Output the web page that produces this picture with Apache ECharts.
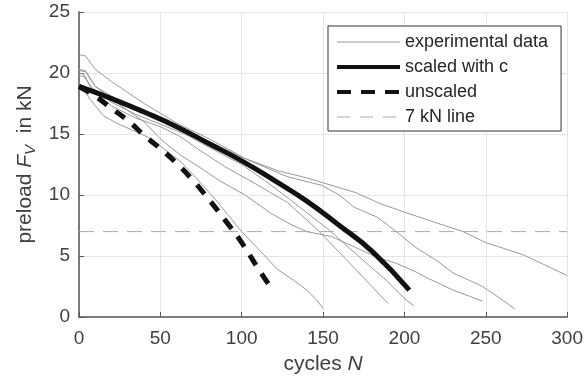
<!DOCTYPE html>
<html>
<head>
<meta charset="utf-8">
<script src="https://cdn.jsdelivr.net/npm/echarts@6/dist/echarts.min.js"></script>
<style>
  html, body { margin: 0; padding: 0; background: #fff; }
  #main { width: 586px; height: 381px; }
</style>
</head>
<body>
<div id="main"></div>
<script>
// experimental preload curves [cycles, preload kN]
let exp1 = [[0,19.2],[3,18.6],[7,17.8],[15,16.5],[23,15.9],[33,15.3],[43,14.7],[52,13.8],[62,12.8],[72,11.4],[84,9.6],[92,8.3],[100,7.0],[110,5.6],[122,3.9],[132,3.0],[140,2.2],[146,1.4],[150,0.7]];
let exp2 = [[0,20.0],[3,19.9],[8,18.6],[20,17.3],[35,16.3],[50,15.6],[62,14.8],[75,13.6],[90,12.3],[110,10.8],[128,9.4],[147,7.1],[160,5.3],[175,3.2],[190,1.1]];
let exp3 = [[0,19.8],[3,19.7],[8,18.8],[20,17.6],[35,16.6],[50,15.8],[65,15.0],[80,13.9],[100,12.5],[114,11.2],[130,9.6],[154,7.1],[175,4.6],[189,3.0],[201,1.4],[206,0.9]];
let exp4 = [[0,20.3],[4,20.2],[10,18.9],[25,17.4],[40,16.0],[50,14.6],[62,13.3],[75,12.2],[86,11.2],[102,10.0],[118,8.5],[130,7.6],[140,7.0],[155,6.6],[170,5.7],[183,4.9],[195,4.4],[207,3.7],[214,3.2],[230,2.2],[240,1.7],[248,1.3]];
let exp5 = [[0,20.2],[4,20.1],[10,18.9],[25,17.7],[40,16.8],[60,15.7],[80,14.4],[100,13.1],[128,11.5],[149,10.8],[160,10.0],[169,9.0],[183,8.2],[195,7.0],[207,5.7],[220,4.6],[230,3.6],[240,3.0],[248,2.5],[258,1.6],[268,0.65]];
let exp6 = [[0,21.5],[4,21.4],[10,20.3],[20,19.3],[30,18.4],[40,17.5],[50,16.7],[60,15.9],[80,14.6],[102,13.0],[122,12.0],[140,11.4],[150,11.0],[170,10.2],[185,9.3],[200,8.6],[220,7.7],[236,7.0],[250,6.1],[273,5.1],[300,3.4]];
// model curves
let scaledC = [[0,18.9],[20,17.9],[40,16.8],[60,15.6],[80,14.2],[100,12.8],[120,11.2],[140,9.5],[160,7.5],[180,5.4],[203,2.2]];
let unscaled = [[0,18.9],[10,18.1],[20,17.1],[30,16.1],[40,14.9],[50,13.8],[60,12.6],[70,11.2],[80,9.6],[90,7.9],[100,6.1],[110,4.0],[119,2.2]];
let line7 = [[0,7],[300,7]];

let xTicks = [0, 300, 50];
let yTicks = [0, 25, 5];

let chart = echarts.init(document.getElementById('main'));
let txt = '#404040';
let font = 'Liberation Sans';
let expSeries = [exp1, exp2, exp3, exp4, exp5, exp6].map(d => ({
  name: 'experimental data', type: 'line', data: d, showSymbol: false, symbol: 'none',
  lineStyle: { color: '#999', width: 1 }, itemStyle: { color: '#999' }, z: 2, silent: true
}));
let noMark = { color: 'transparent', borderColor: 'transparent', borderWidth: 0, opacity: 0 };

let option = {
  animation: false,
  grid: { left: 79, right: 14, top: 12, bottom: 64, containLabel: false },
  legend: {
    orient: 'vertical', left: 328, top: 26,
    padding: [7, 13, 5, 7], itemGap: 7, itemWidth: 63, itemHeight: 18,
    borderColor: '#333', borderWidth: 1, backgroundColor: '#fff',
    textStyle: { color: '#262626', fontSize: 18, fontFamily: font },
    itemStyle: noMark,
    data: [
      { name: 'experimental data', itemStyle: noMark, lineStyle: { color: '#999', width: 1 } },
      { name: 'scaled with c', itemStyle: noMark, lineStyle: { color: '#111', width: 4 } },
      { name: 'unscaled', itemStyle: noMark, lineStyle: { color: '#111', width: 4, type: [14, 10] } },
      { name: '7 kN line', itemStyle: noMark, lineStyle: { color: '#aaa', width: 1, type: [13, 10] } }
    ]
  },
  xAxis: {
    type: 'value', min: xTicks[0], max: xTicks[1], interval: xTicks[2],
    name: '{n|cycles }{i|N}', nameLocation: 'middle', nameGap: 37,
    nameTextStyle: { rich: { n: { fontSize: 21, color: txt, fontFamily: font }, i: { fontSize: 21, color: txt, fontFamily: font, fontStyle: 'italic' } } },
    axisLine: { show: true, onZero: false, lineStyle: { color: '#555', width: 1.5 } },
    axisTick: { show: true, inside: true, length: 5, lineStyle: { color: '#555' } },
    axisLabel: { color: txt, fontSize: 19, fontFamily: font, margin: 12 },
    splitLine: { show: true, lineStyle: { color: '#e6e6e6', width: 1 } }
  },
  yAxis: {
    type: 'value', min: yTicks[0], max: yTicks[1], interval: yTicks[2],
    name: '{n|preload }{i|F}{s|V}{n|  in kN}', nameLocation: 'middle', nameGap: 40, nameRotate: 90,
    nameTextStyle: { rich: {
      n: { fontSize: 21, color: txt, fontFamily: font },
      i: { fontSize: 21, color: txt, fontFamily: font, fontStyle: 'italic' },
      s: { fontSize: 15, color: txt, fontFamily: font, fontStyle: 'italic', verticalAlign: 'bottom', padding: [10, 0, 0, 0] } } },
    axisLine: { show: true, onZero: false, lineStyle: { color: '#555', width: 1.5 } },
    axisTick: { show: true, inside: true, length: 5, lineStyle: { color: '#555' } },
    axisLabel: { color: txt, fontSize: 19, fontFamily: font, margin: 9 },
    splitLine: { show: true, lineStyle: { color: '#e6e6e6', width: 1 } }
  },
  series: expSeries.concat([
    { name: 'scaled with c', type: 'line', data: scaledC, smooth: true, showSymbol: false, symbol: 'none',
      lineStyle: { color: '#111', width: 5 }, itemStyle: { color: '#111' }, z: 4 },
    { name: 'unscaled', type: 'line', data: unscaled, smooth: true, showSymbol: false, symbol: 'none',
      lineStyle: { color: '#111', width: 5, type: [12, 10] }, itemStyle: { color: '#111' }, z: 4 },
    { name: '7 kN line', type: 'line', data: line7, showSymbol: false, symbol: 'none',
      lineStyle: { color: '#aaa', width: 1, type: [15, 9] }, itemStyle: { color: '#aaa' }, z: 3 }
  ])
};
chart.setOption(option);
</script>
</body>
</html>
